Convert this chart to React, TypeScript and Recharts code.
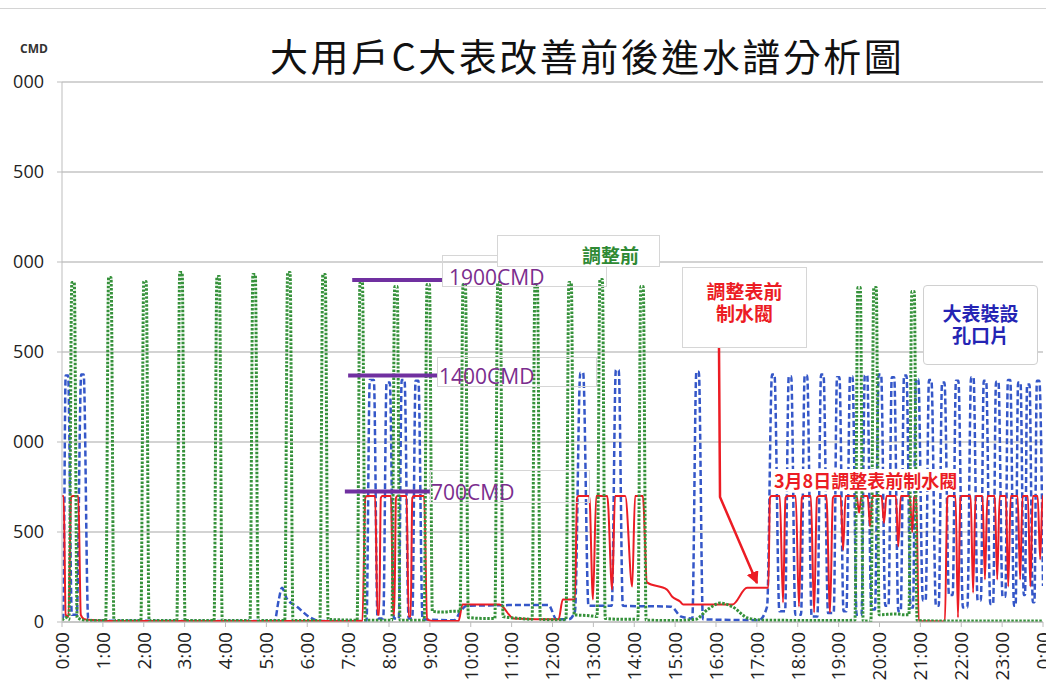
import React from 'react';
import { LineChart, Line, XAxis, YAxis, CartesianGrid, ReferenceLine } from 'recharts';

// [hour of day, CMD]
const beforeAdjust: [number, number][] = [
  [0.0, 10], [0.1, 25], [0.17, 15], [0.24, 1886], [0.3, 1886], [0.37, 25], [0.6, 8],
  [1.07, 8], [1.14, 1914], [1.2, 1914], [1.27, 8],
  [1.93, 8], [2.0, 1892], [2.06, 1892], [2.13, 8],
  [2.81, 8], [2.88, 1942], [2.94, 1942], [3.01, 8],
  [3.72, 8], [3.79, 1919], [3.85, 1919], [3.92, 8],
  [4.6, 8], [4.67, 1931], [4.73, 1931], [4.8, 8],
  [5.45, 8], [5.52, 1942], [5.58, 1942], [5.65, 8],
  [6.31, 8], [6.38, 1931], [6.44, 1931], [6.51, 15], [6.8, 12],
  [7.22, 10], [7.29, 1886], [7.35, 1886], [7.42, 10],
  [8.07, 10], [8.14, 1864], [8.2, 1864], [8.27, 10],
  [8.86, 10], [8.93, 1875], [8.99, 1875], [9.06, 60], [9.3, 55], [9.6, 60],
  [9.74, 60], [9.81, 1875], [9.87, 1875], [9.94, 25], [10.3, 20],
  [10.59, 20], [10.66, 1886], [10.72, 1886], [10.79, 30], [11.2, 20],
  [11.5, 15], [11.57, 1875], [11.63, 1875], [11.7, 15], [12.1, 12],
  [12.33, 12], [12.4, 1886], [12.46, 1886], [12.53, 40], [12.9, 35],
  [13.09, 30], [13.16, 1903], [13.22, 1903], [13.29, 20], [13.7, 15],
  [14.09, 15], [14.16, 1864], [14.22, 1864], [14.29, 10], [15.0, 8], [15.5, 15],
  [15.8, 70], [16.1, 105], [16.4, 85], [16.8, 20], [17.2, 10], [19.0, 8],
  [19.4, 10], [19.47, 1858], [19.53, 1858], [19.6, 5],
  [19.79, 5], [19.86, 1858], [19.92, 1858], [19.99, 40], [20.4, 45], [20.6, 40],
  [20.72, 40], [20.79, 1836], [20.85, 1836], [20.92, 8], [22.0, 5], [24.0, 5],
];

const orificePlate: [number, number][] = [
  [0.0, 15], [0.03, 30], [0.09, 1370], [0.15, 1370], [0.24, 40], [0.36, 40],
  [0.47, 1375], [0.53, 1375], [0.64, 20], [0.8, 8],
  [5.2, 5], [5.3, 120], [5.38, 190], [5.5, 130], [5.75, 85], [6.07, 25], [6.3, 5],
  [7.45, 5], [7.53, 1345], [7.63, 1345], [7.72, 20], [7.86, 20], [7.94, 1330], [8.02, 1330],
  [8.12, 20], [8.24, 20], [8.31, 1345], [8.38, 1345], [8.48, 20], [8.57, 20],
  [8.65, 1340], [8.72, 1340], [8.82, 15],
  [9.6, 10], [9.75, 60], [9.9, 90], [11.9, 95], [12.1, 15], [12.4, 15], [12.55, 60],
  [12.68, 1385], [12.75, 1385], [12.88, 90], [13.45, 90], [13.55, 1400], [13.62, 1400],
  [13.72, 90], [14.9, 85], [15.15, 30], [15.42, 20], [15.52, 1390], [15.58, 1390],
  [15.68, 15], [17.05, 10], [17.25, 85],
  [17.37, 1375], [17.43, 1375], [17.55, 60], [17.69, 60], [17.78, 1365], [17.84, 1365],
  [17.94, 40], [18.08, 40], [18.17, 1370], [18.23, 1370], [18.34, 30], [18.48, 30],
  [18.57, 1375], [18.63, 1375], [18.74, 50], [18.88, 50], [18.96, 1360], [19.02, 1360],
  [19.12, 60], [19.19, 60], [19.28, 1365], [19.34, 1365], [19.44, 40], [19.56, 40],
  [19.64, 1370], [19.7, 1370], [19.8, 70], [19.89, 70], [19.98, 1375], [20.04, 1375],
  [20.14, 90], [20.22, 90], [20.3, 1360], [20.36, 1360], [20.46, 60], [20.52, 60],
  [20.6, 1370], [20.66, 1370], [20.76, 80], [20.82, 80], [20.89, 1350], [20.95, 1350],
  [21.06, 120], [21.13, 120], [21.21, 1345], [21.27, 1345], [21.38, 90], [21.45, 90],
  [21.53, 1330], [21.59, 1330], [21.7, 150], [21.79, 150], [21.87, 1340], [21.93, 1340],
  [22.04, 80], [22.15, 80], [22.24, 1360], [22.3, 1360], [22.4, 120], [22.48, 120],
  [22.55, 1340], [22.61, 1340], [22.71, 100], [22.78, 100], [22.85, 1335], [22.91, 1335],
  [23.01, 140], [23.08, 140], [23.14, 1345], [23.2, 1345], [23.29, 90], [23.33, 90],
  [23.39, 1330], [23.45, 1330], [23.53, 150], [23.56, 150], [23.61, 1320], [23.67, 1320],
  [23.75, 110], [23.79, 110], [23.85, 1340], [23.91, 1340], [24.0, 200],
];

const valveAdjusted: [number, number][] = [
  [0.0, 700], [0.04, 700], [0.09, 40], [0.16, 30], [0.22, 690], [0.26, 700], [0.4, 700],
  [0.46, 40], [0.55, 15], [0.8, 10], [1.2, 5],
  [7.35, 5], [7.42, 690], [7.46, 700], [7.66, 700], [7.72, 40], [7.76, 40], [7.8, 690],
  [7.84, 700], [8.05, 700], [8.1, 40], [8.13, 40], [8.17, 690], [8.21, 700], [8.43, 700],
  [8.48, 30], [8.53, 30], [8.57, 690], [8.61, 700], [8.86, 700], [8.93, 15], [9.1, 5],
  [9.7, 5], [9.8, 97], [10.7, 97], [11.05, 20], [12.15, 15], [12.25, 125], [12.55, 125],
  [12.6, 690], [12.64, 700], [12.9, 700], [12.99, 125], [13.07, 700], [13.34, 700],
  [13.46, 180], [13.53, 700], [13.78, 700], [13.95, 197], [14.02, 700], [14.21, 700],
  [14.31, 220], [14.8, 180], [14.93, 140], [15.12, 114], [15.2, 97], [16.4, 97],
  [16.76, 190], [17.28, 190],
  [17.32, 690], [17.36, 700], [17.56, 700], [17.64, 108], [17.7, 690], [17.75, 700],
  [17.95, 700], [18.03, 86], [18.1, 690], [18.14, 700], [18.32, 700], [18.4, 53],
  [18.47, 690], [18.52, 700], [18.7, 700], [18.79, 53], [18.86, 690], [18.9, 700],
  [19.05, 700], [19.11, 400], [19.17, 700], [19.44, 700], [19.5, 608], [19.56, 700],
  [19.71, 700], [19.77, 530], [19.83, 700], [20.05, 700], [20.11, 550], [20.17, 700],
  [20.4, 700], [20.46, 420], [20.52, 700], [20.74, 700], [20.8, 500], [20.85, 700],
  [20.9, 700], [20.96, 5], [21.6, 3], [21.66, 690], [21.7, 700], [21.86, 700],
  [21.92, 25], [21.98, 690], [22.02, 700], [22.23, 700], [22.29, 163], [22.35, 700],
  [22.52, 700], [22.58, 236], [22.64, 700], [22.82, 700], [22.88, 236], [22.94, 700],
  [23.09, 700], [23.15, 197], [23.21, 700], [23.38, 700], [23.44, 236], [23.5, 700],
  [23.63, 700], [23.69, 197], [23.75, 700], [23.87, 700], [23.93, 347], [23.99, 700],
  [24.0, 700],
];

const hourTicks = [0, 1, 2, 3, 4, 5, 6, 7, 8, 9, 10, 11, 12, 13, 14, 15, 16, 17, 18, 19, 20, 21, 22, 23, 24];
const cmdTicks = [0, 500, 1000, 1500, 2000, 2500, 3000];

// drawn reference levels (label, level in CMD, start hour, end hour)
const levelMarks: [string, number, number, number][] = [
  ['1900CMD', 1900, 7.1, 9.3],
  ['1400CMD', 1369, 7.0, 9.18],
  ['700CMD', 725, 6.92, 9.0],
];

const toRows = (pts: [number, number][]) => pts.map(([t, v]) => ({ t, v }));

const sans = "'Open Sans', 'Noto Sans', sans-serif";
const cjk = "'Noto Sans CJK TC', 'Noto Sans CJK SC', sans-serif";

const HourTick = ({ x, y, payload }: any) => (
  <g transform={`translate(${x},${y})`}>
    <text transform="rotate(-90)" textAnchor="end" dy="0.36em" fontSize={19} fill="#222" fontFamily={sans}>
      {`${payload.value % 24}:00`}
    </text>
  </g>
);

const purple = '#7b2d8e';
const levelBoxes = [
  { text: '1900CMD', left: 442, top: 255, w: 165, h: 32, tx: 449, ty: 264 },
  { text: '1400CMD', left: 437, top: 357, w: 160, h: 30, tx: 439, ty: 363 },
  { text: '700CMD', left: 430, top: 470, w: 160, h: 33, tx: 431, ty: 479 },
];

export default function App() {
  return (
    <div style={{ position: 'fixed', left: 0, top: 0, width: 1046, height: 681, overflow: 'hidden', background: '#fff' }}>
      <div style={{ position: 'absolute', left: 0, top: 8, width: 1046, height: 1, background: '#d4d4d4' }} />
      <div style={{ position: 'absolute', left: 13, top: 0, width: 1033, height: 681, overflow: 'hidden' }}>
        <div style={{ position: 'absolute', left: -13, top: 0 }}>
          <LineChart width={1063} height={681} margin={{ top: 82, right: 20, bottom: 0, left: 0 }}>
            <CartesianGrid vertical={false} stroke="#c4c4c4" strokeWidth={1.5} />
            <XAxis
              type="number"
              dataKey="t"
              domain={[0, 24]}
              ticks={hourTicks}
              allowDataOverflow
              height={59}
              tickSize={5}
              tickMargin={5}
              stroke="#bdbdbd"
              tick={<HourTick />}
              interval={0}
            />
            <YAxis
              type="number"
              domain={[0, 3000]}
              ticks={cmdTicks}
              width={62}
              tickSize={5}
              tickMargin={13}
              stroke="#bdbdbd"
              tick={{ fontSize: 18, fill: '#222', fontFamily: sans }}
              allowDataOverflow
            />
            <Line data={toRows(orificePlate)} dataKey="v" type="monotone" stroke="#3557c8" strokeWidth={2.5} strokeDasharray="6 3" dot={false} isAnimationActive={false} />
            <Line data={toRows(valveAdjusted)} dataKey="v" type="monotone" stroke="#ec1c24" strokeWidth={2} dot={false} isAnimationActive={false} />
            <Line data={toRows(beforeAdjust)} dataKey="v" type="monotone" stroke="#35913a" strokeWidth={3} strokeDasharray="2.5 1.5" dot={false} isAnimationActive={false} />
            {levelMarks.map(([label, level, from, to]) => (
              <ReferenceLine
                key={label}
                segment={[{ x: from, y: level }, { x: to, y: level }]}
                stroke="#7030a0"
                strokeWidth={4}
                ifOverflow="extendDomain"
              />
            ))}
          </LineChart>
        </div>
      </div>

      {/* title + unit */}
      <div style={{ position: 'absolute', left: 270, top: 36, fontFamily: cjk, fontSize: 38, fontWeight: 400, letterSpacing: 2.5, lineHeight: 1, color: '#111', whiteSpace: 'nowrap' }}>
        大用戶C大表改善前後進水譜分析圖
      </div>
      <div style={{ position: 'absolute', left: 20, top: 40, fontFamily: sans, fontSize: 12, fontWeight: 700, color: '#333' }}>CMD</div>

      {/* level labels */}
      {levelBoxes.map((b) => (
        <React.Fragment key={b.text}>
          <div style={{ position: 'absolute', left: b.left, top: b.top, width: b.w, height: b.h, border: '1px solid #d6d6d6', boxSizing: 'border-box' }} />
          <div style={{ position: 'absolute', left: b.tx, top: b.ty, fontFamily: sans, fontSize: 21, lineHeight: '26px', color: purple, whiteSpace: 'nowrap' }}>{b.text}</div>
        </React.Fragment>
      ))}

      {/* 調整前 */}
      <div style={{ position: 'absolute', left: 497, top: 235, width: 163, height: 32, background: '#fff', border: '1px solid #d6d6d6', boxSizing: 'border-box' }} />
      <div style={{ position: 'absolute', left: 582, top: 243, fontFamily: cjk, fontSize: 19, fontWeight: 700, lineHeight: '24px', color: '#2f8a34' }}>調整前</div>

      {/* 調整表前制水閥 */}
      <div style={{ position: 'absolute', left: 682, top: 267, width: 125, height: 81, background: '#fff', border: '1px solid #d6d6d6', boxSizing: 'border-box' }} />
      <div style={{ position: 'absolute', left: 682, top: 280, width: 125, textAlign: 'center', fontFamily: cjk, fontSize: 19, fontWeight: 700, lineHeight: '22px', color: '#ec1c24' }}>調整表前</div>
      <div style={{ position: 'absolute', left: 682, top: 302, width: 125, textAlign: 'center', fontFamily: cjk, fontSize: 19, fontWeight: 700, lineHeight: '22px', color: '#ec1c24' }}>制水閥</div>
      <svg width={1046} height={681} style={{ position: 'absolute', left: 0, top: 0, pointerEvents: 'none' }}>
        <defs>
          <marker id="arrow" viewBox="0 0 10 10" refX="9" refY="5" markerWidth="5" markerHeight="5" orient="auto">
            <path d="M0,0 L10,5 L0,10 z" fill="#ec1c24" />
          </marker>
        </defs>
        <polyline points="719,348 720,497 757,583" fill="none" stroke="#ec1c24" strokeWidth={2.5} markerEnd="url(#arrow)" />
      </svg>

      {/* 大表裝設孔口片 */}
      <div style={{ position: 'absolute', left: 923, top: 285, width: 115, height: 80, background: '#fff', border: '1px solid #d0d0d0', borderRadius: 4, boxSizing: 'border-box' }} />
      <div style={{ position: 'absolute', left: 923, top: 302, width: 115, textAlign: 'center', fontFamily: cjk, fontSize: 19, fontWeight: 700, lineHeight: '22px', color: '#2424b4' }}>大表裝設</div>
      <div style={{ position: 'absolute', left: 923, top: 324, width: 115, textAlign: 'center', fontFamily: cjk, fontSize: 19, fontWeight: 700, lineHeight: '22px', color: '#2424b4' }}>孔口片</div>

      {/* 3月8日 */}
      <div style={{ position: 'absolute', left: 772, top: 469, background: '#fff', padding: '0 2px', fontFamily: cjk, fontSize: 18, fontWeight: 700, lineHeight: '22px', color: '#ec1c24', whiteSpace: 'nowrap' }}>
        3月8日調整表前制水閥
      </div>
    </div>
  );
}
